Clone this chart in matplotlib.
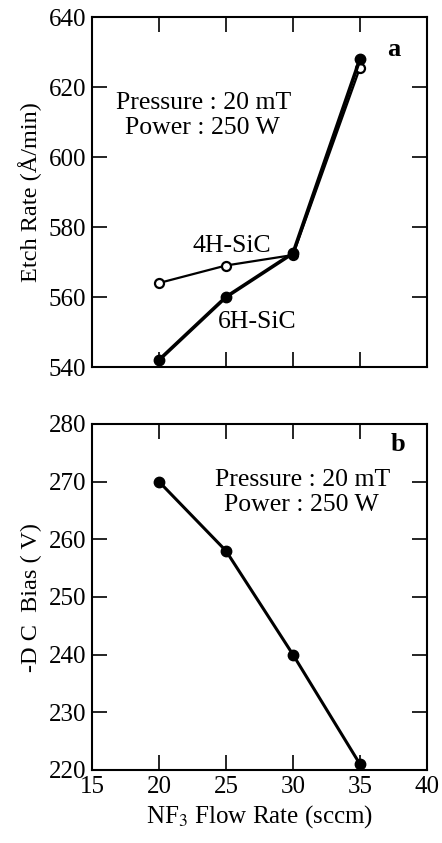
import matplotlib
matplotlib.use("Agg")
import matplotlib.pyplot as plt

plt.rcParams['font.family'] = ['Liberation Serif', 'DejaVu Serif']
plt.rcParams['mathtext.fontset'] = 'stix'

# NF3 flow rate (sccm)
flow = [20, 25, 30, 35]

# etch rates (A/min)
etch_4h = [564, 569, 572, 625.5]
etch_6h = [542, 560, 572.5, 628]

# -DC bias (V)
dc_bias = [270, 258, 240, 221]

fig = plt.figure(figsize=(4.42, 8.43), dpi=100)
ax1 = fig.add_axes([92 / 442, 1 - 367 / 843, 335 / 442, 350 / 843])
ax2 = fig.add_axes([92 / 442, 1 - 770 / 843, 335 / 442, 346 / 843])


def style_axes(ax):
    ax.tick_params(direction='in', top=True, right=True, length=11, width=1.2,
                   labelsize=18, pad=4)
    for sp in ax.spines.values():
        sp.set_linewidth(1.5)
    ax.set_xlim(15, 40)
    ax.set_xticks([15, 20, 25, 30, 35, 40])


# panel a: etch rate
ax1.plot(flow, etch_4h, '-o', color='black', lw=1.6, ms=6.5,
         mfc='white', mew=1.6)
ax1.plot(flow, etch_6h, '-o', color='black', lw=2.6, ms=7.5)
style_axes(ax1)
ax1.set_ylim(540, 640)
ax1.set_yticks(range(540, 641, 20))
ax1.tick_params(labelbottom=False)
ax1.set_ylabel('Etch Rate (Å/min)', fontsize=17.5, labelpad=5)
ax1.text(23.3, 615.4, 'Pressure : 20 mT', ha='center', va='center', fontsize=18.5)
ax1.text(23.2, 608.3, 'Power : 250 W', ha='center', va='center', fontsize=18.5)
ax1.text(25.4, 574.6, '4H-SiC', ha='center', va='center', fontsize=18.5)
ax1.text(27.3, 552.9, '6H-SiC', ha='center', va='center', fontsize=18.5)
ax1.text(37.5, 630.8, 'a', ha='center', va='center', fontsize=19, fontweight='bold')

# panel b: DC bias
ax2.plot(flow, dc_bias, '-o', color='black', lw=2.2, ms=7.5)
style_axes(ax2)
ax2.set_ylim(220, 280)
ax2.set_yticks(range(220, 281, 10))
ax2.set_ylabel('-D C  Bias ( V)', fontsize=17.5, labelpad=5)
ax2.set_xlabel('NF$_3$ Flow Rate (sccm)', fontsize=18, labelpad=4)
ax2.text(30.75, 270.3, 'Pressure : 20 mT', ha='center', va='center', fontsize=18.5)
ax2.text(30.6, 266.0, 'Power : 250 W', ha='center', va='center', fontsize=18.5)
ax2.text(37.8, 276.4, 'b', ha='center', va='center', fontsize=19, fontweight='bold')

fig.savefig('out.png', dpi=100)
